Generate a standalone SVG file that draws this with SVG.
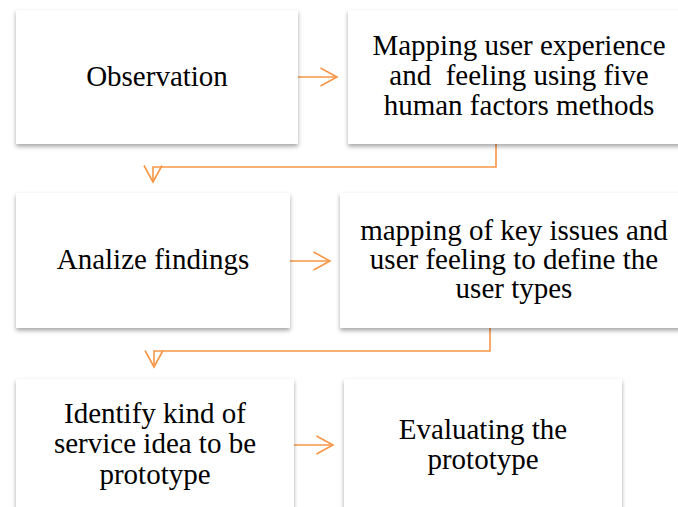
<svg xmlns="http://www.w3.org/2000/svg" width="678" height="507" viewBox="0 0 678 507">
<style>
.box{fill:#fff;filter:url(#sh)}
.t{font-family:"Liberation Serif","Times New Roman",serif;font-size:29px;fill:#000;text-anchor:middle}
.c{fill:none;stroke:#F79646;stroke-width:1.6}
</style>
<defs>
<filter id="sh" x="-10%" y="-10%" width="120%" height="130%">
<feDropShadow dx="0" dy="2.5" stdDeviation="2" flood-color="#000" flood-opacity="0.35"/>
</filter>
<marker id="ah" viewBox="0 0 19 20" refX="17.5" refY="10" markerWidth="19" markerHeight="20" markerUnits="userSpaceOnUse" orient="auto">
<path d="M1,1 L17.5,10 L1,19" fill="none" stroke="#F79646" stroke-width="1.6"/>
</marker>
</defs>
<rect width="678" height="507" fill="#fff"/>
<g id="connectors">
<path class="c" d="M298,77 H337" marker-end="url(#ah)"/>
<path class="c" d="M496,144 V167 H153 V182" marker-end="url(#ah)"/>
<path class="c" d="M290,261 H330" marker-end="url(#ah)"/>
<path class="c" d="M490,328 V351 H154 V367" marker-end="url(#ah)"/>
<path class="c" d="M294,445 H333" marker-end="url(#ah)"/>
</g>
<g id="n1"><rect class="box" x="16" y="10" width="282" height="134"/><text class="t" x="157" y="86">Observation</text></g>
<g id="n2"><rect class="box" x="348" y="10" width="345" height="134"/><text class="t" x="519" y="55">Mapping user experience</text><text class="t" x="519" y="85" xml:space="preserve">and  feeling using five</text><text class="t" x="519" y="115">human factors methods</text></g>
<g id="n3"><rect class="box" x="16" y="193" width="274" height="135"/><text class="t" x="153" y="269">Analize findings</text></g>
<g id="n4"><rect class="box" x="340" y="193" width="350" height="135"/><text class="t" x="514" y="240">mapping of key issues and</text><text class="t" x="514" y="269">user feeling to define the</text><text class="t" x="514" y="298">user types</text></g>
<g id="n5"><rect class="box" x="16" y="379" width="278" height="140"/><text class="t" x="155" y="423">Identify kind of</text><text class="t" x="155" y="453">service idea to be</text><text class="t" x="155" y="484">prototype</text></g>
<g id="n6"><rect class="box" x="344" y="379" width="278" height="140"/><text class="t" x="483" y="439">Evaluating the</text><text class="t" x="483" y="469">prototype</text></g>
</svg>
